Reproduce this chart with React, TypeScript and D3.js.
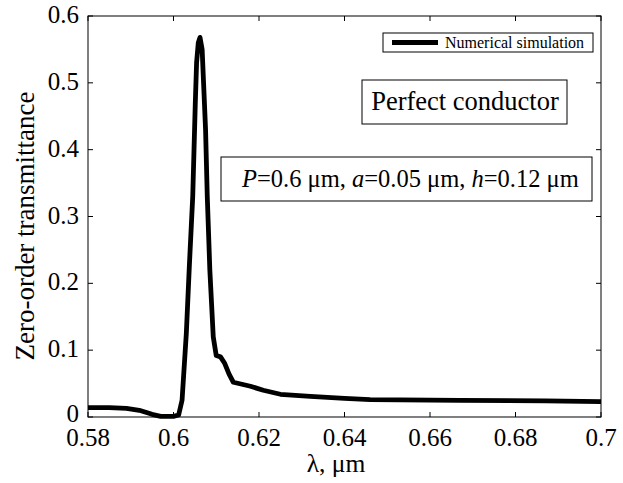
import React, { useEffect, useRef } from 'react';
import * as d3 from 'd3';

const wavelength = [
  0.58, 0.585, 0.589, 0.592, 0.595, 0.597, 0.6, 0.6012, 0.602, 0.603, 0.6037, 0.6045, 0.6048,
  0.6051, 0.6054, 0.6058, 0.6062, 0.6067, 0.6071, 0.6075, 0.6079, 0.6085, 0.6093, 0.61, 0.611,
  0.612, 0.613, 0.614, 0.616, 0.618, 0.621, 0.625, 0.632, 0.64, 0.646, 0.667, 0.687, 0.7,
];
const transmittance = [
  0.014, 0.014, 0.013, 0.01, 0.004, 0.001, 0.001, 0.003, 0.025, 0.125, 0.225, 0.33, 0.4,
  0.47, 0.53, 0.56, 0.568, 0.55, 0.49, 0.43, 0.33, 0.22, 0.12, 0.092, 0.09,
  0.08, 0.064, 0.052, 0.049, 0.046, 0.04, 0.034, 0.031, 0.028, 0.026, 0.025, 0.024, 0.023,
];
const xTicks = [0.58, 0.6, 0.62, 0.64, 0.66, 0.68, 0.7];
const yTicks = [0, 0.1, 0.2, 0.3, 0.4, 0.5, 0.6];

const W = 623;
const H = 483;
const margin = { left: 88, right: 22, top: 16, bottom: 66 };
const font = 'Liberation Serif';

const App = () => {
  const svgRef = useRef<SVGSVGElement>(null);

  useEffect(() => {
    const svg = d3.select(svgRef.current);
    svg.selectAll('*').remove();

    const x = d3.scaleLinear().domain([0.58, 0.7]).range([margin.left, W - margin.right]);
    const y = d3.scaleLinear().domain([0, 0.6]).range([H - margin.bottom, margin.top]);
    const x0 = x.range()[0], x1 = x.range()[1];
    const y0 = y.range()[0], y1 = y.range()[1];

    svg.append('rect').attr('width', W).attr('height', H).attr('fill', '#fff');

    const data = wavelength.map((w, i) => ({ w, t: transmittance[i] }));

    // curve
    const line = d3.line<{ w: number; t: number }>().x(d => x(d.w)).y(d => y(d.t));
    svg.append('path')
      .datum(data)
      .attr('fill', 'none')
      .attr('stroke', '#000')
      .attr('stroke-width', 4.8)
      .attr('stroke-linejoin', 'round')
      .attr('d', line);

    // frame
    svg.append('rect')
      .attr('x', x0).attr('y', y1)
      .attr('width', x1 - x0).attr('height', y0 - y1)
      .attr('fill', 'none').attr('stroke', '#000').attr('stroke-width', 1);

    // inward ticks on all four sides
    const tl = 5;
    xTicks.forEach(t => {
      svg.append('line').attr('x1', x(t)).attr('x2', x(t)).attr('y1', y0).attr('y2', y0 - tl).attr('stroke', '#000');
      svg.append('line').attr('x1', x(t)).attr('x2', x(t)).attr('y1', y1).attr('y2', y1 + tl).attr('stroke', '#000');
    });
    yTicks.forEach(t => {
      svg.append('line').attr('x1', x0).attr('x2', x0 + tl).attr('y1', y(t)).attr('y2', y(t)).attr('stroke', '#000');
      svg.append('line').attr('x1', x1).attr('x2', x1 - tl).attr('y1', y(t)).attr('y2', y(t)).attr('stroke', '#000');
    });

    const txt = (sel: any, size: number) =>
      sel.style('font-family', font).style('font-size', `${size}px`);

    // tick labels
    txt(svg.selectAll('.xl').data(xTicks).enter().append('text')
      .attr('x', (d: number) => x(d)).attr('y', 446)
      .attr('text-anchor', 'middle')
      .text((d: number) => String(+d.toFixed(2))), 25);
    txt(svg.selectAll('.yl').data(yTicks).enter().append('text')
      .attr('x', x0 - 9).attr('y', (d: number) => y(d) + (d === 0 ? 5 : 7))
      .attr('text-anchor', 'end')
      .text((d: number) => String(+d.toFixed(1))), 25);

    // axis titles
    txt(svg.append('text')
      .attr('x', 336).attr('y', 472)
      .attr('text-anchor', 'middle')
      .text('λ, μm'), 25.5);
    txt(svg.append('text')
      .attr('transform', `translate(34, 226) rotate(-90)`)
      .attr('text-anchor', 'middle')
      .text('Zero-order transmittance'), 27);

    // legend
    svg.append('rect').attr('x', 383).attr('y', 33).attr('width', 210).attr('height', 19)
      .attr('fill', '#fff').attr('stroke', '#000');
    svg.append('line').attr('x1', 392).attr('x2', 438).attr('y1', 42.5).attr('y2', 42.5)
      .attr('stroke', '#000').attr('stroke-width', 4.8);
    txt(svg.append('text').attr('x', 445).attr('y', 48)
      .text('Numerical simulation'), 16);

    // annotation boxes
    svg.append('rect').attr('x', 362).attr('y', 80).attr('width', 205).attr('height', 44)
      .attr('fill', '#fff').attr('stroke', '#000');
    txt(svg.append('text').attr('x', 465).attr('y', 110)
      .attr('text-anchor', 'middle')
      .text('Perfect conductor'), 26.5);

    svg.append('rect').attr('x', 221).attr('y', 157).attr('width', 371).attr('height', 44)
      .attr('fill', '#fff').attr('stroke', '#000');
    const p = txt(svg.append('text').attr('x', 242).attr('y', 186.5), 24.5);
    const parts: [string, boolean][] = [
      ['P', true], ['=0.6 μm, ', false], ['a', true], ['=0.05 μm, ', false], ['h', true], ['=0.12 μm', false],
    ];
    parts.forEach(([s, it]) => {
      p.append('tspan').style('font-style', it ? 'italic' : 'normal').text(s);
    });
  }, []);

  return (
    <svg
      ref={svgRef}
      width={W}
      height={H}
      style={{ position: 'absolute', left: 0, top: 0 }}
    />
  );
};

export default App;
